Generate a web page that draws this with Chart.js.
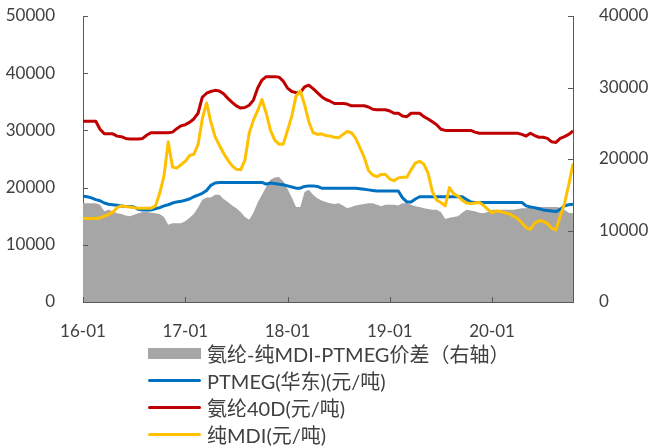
<!DOCTYPE html>
<html>
<head>
<meta charset="utf-8">
<script src="https://cdn.jsdelivr.net/npm/chart.js@4"></script>
<style>
  body { margin: 0; background: #fff; }
  #wrap { position: relative; width: 649px; height: 448px; }
  #legend { position: absolute; left: 148px; top: 340px; font-family: Lato, "Noto Sans CJK SC", sans-serif; font-size: 20px; color: #404040; }
  #legend .row { height: 27px; display: flex; align-items: center; white-space: nowrap; }
  #legend .sw { width: 53px; margin-right: 6px; }
</style>
</head>
<body>
<div id="wrap">
  <canvas id="chart"></canvas>
  <div id="legend"></div>
</div>
<script>
// half-month steps from 2016-01 (month 0) to mid 2020-10
const months = Array.from({ length: 116 }, (_, i) => i / 2);

const tickMonths = [0, 12, 24, 36, 48];
const tickLabels = ['16-01', '17-01', '18-01', '19-01', '20-01'];

// 氨纶40D (元/吨)
const spandex = [
  31600, 31600, 31600, 31600, 30200, 29400, 29400, 29400, 29000, 28900, 28600, 28500, 28500, 28500, 28600, 29200, 29600, 29600, 29600, 29600, 29600, 29700, 30300, 30800,
  31000, 31400, 32000, 33000, 35800, 36500, 36800, 37000, 36900, 36400, 35600, 34900, 34300, 33900, 34000, 34400, 35300, 37400, 38800, 39400, 39400, 39400, 39300, 38600,
  37400, 36800, 36600, 36600, 37600, 37900, 37300, 36600, 35900, 35400, 35100, 34700, 34700, 34700, 34600, 34300, 34300, 34300, 34300, 34100, 33700, 33600, 33600, 33600,
  33400, 33000, 33000, 32500, 32400, 33000, 33000, 33000, 32400, 32000, 31500, 31000, 30200, 30000, 30000, 30000, 30000, 30000, 30000, 30000, 29700, 29500, 29500, 29500,
  29500, 29500, 29500, 29500, 29500, 29500, 29500, 29300, 29000, 29500, 29100, 28800, 28800, 28600, 28000, 27900, 28600, 28900, 29300, 29900
];

// 纯MDI (元/吨)
const mdi = [
  14600, 14600, 14600, 14600, 14700, 15000, 15300, 15700, 16500, 16800, 16700, 16600, 16500, 16400, 16400, 16400, 16400, 16800, 19000, 22000, 28000, 23600, 23400, 24000,
  24600, 25600, 25800, 27500, 32000, 34800, 31500, 28900, 27400, 26000, 24800, 23800, 23200, 23100, 24800, 29500, 31800, 33500, 35400, 33000, 30000, 28300, 27600, 27600,
  30000, 32500, 36000, 36900, 34500, 31500, 29600, 29300, 29400, 29100, 29000, 28800, 28700, 29300, 29800, 29600, 28600, 27000, 25300, 23000, 22200, 21900, 22300, 22300,
  21500, 21200, 21700, 21800, 21800, 23100, 24300, 24600, 24100, 22500, 19300, 17800, 17400, 16800, 20000, 18900, 18500, 17800, 17300, 17200, 17300, 17400, 16900, 16200,
  15600, 15900, 15800, 15600, 15400, 15000, 14600, 13800, 13000, 12700, 13800, 14200, 14100, 13700, 12900, 12600, 15000, 17200, 20500, 24200
];

// PTMEG(华东) (元/吨)
const ptmeg = [
  18500, 18400, 18200, 17900, 17700, 17300, 17100, 17000, 16900, 16800, 16700, 16700, 16600, 16200, 16100, 16100, 16100, 16300, 16500, 16800, 17000, 17300, 17500, 17600,
  17800, 18000, 18400, 18700, 19000, 19500, 20400, 20800, 20900, 20900, 20900, 20900, 20900, 20900, 20900, 20900, 20900, 20900, 20900, 20600, 20800, 20700, 20600, 20500,
  20300, 20100, 19900, 19900, 20200, 20300, 20300, 20200, 19900, 19900, 19900, 19900, 19900, 19900, 19900, 19900, 19900, 19800, 19700, 19600, 19500, 19400, 19400, 19400,
  19400, 19400, 19400, 18200, 17500, 17500, 18000, 18400, 18400, 18400, 18400, 18400, 18400, 18400, 18400, 18400, 18400, 18400, 17900, 17500, 17400, 17400, 17400, 17400,
  17400, 17400, 17400, 17400, 17400, 17400, 17400, 17400, 16800, 16600, 16500, 16300, 16100, 16000, 15900, 15800, 16200, 16800, 17000, 17100
];

// 氨纶-纯MDI-PTMEG价差 (右轴)
const spread = [
  13800, 13800, 13800, 13800, 13600, 12700, 12900, 12700, 12400, 12300, 12100, 12000, 12200, 12400, 12600, 12600, 12500, 12400, 12300, 11900, 10800, 11000, 11000, 11000,
  11300, 11800, 12300, 13200, 14300, 14600, 14600, 15000, 15000, 14400, 14000, 13500, 13100, 12600, 11900, 11500, 12500, 13900, 15000, 16100, 17100, 17400, 17500, 16900,
  15800, 14600, 13300, 13300, 15400, 15700, 15000, 14500, 14200, 14000, 13800, 13700, 13800, 13500, 13100, 13300, 13500, 13600, 13700, 13800, 13800, 13600, 13400, 13600,
  13600, 13600, 13500, 13800, 13800, 13600, 13400, 13300, 13100, 13000, 12900, 12900, 12600, 11600, 11800, 11900, 12000, 12500, 12900, 12800, 12700, 12500, 12400, 12600,
  12900, 12900, 12900, 12900, 12900, 12900, 13000, 13100, 13100, 13200, 13300, 13300, 13300, 13300, 13300, 13300, 13200, 12900, 12500, 12400
];

const axisColor = '#595959';
const textColor = '#404040';
const tickFont = { family: 'Lato, "Noto Sans CJK SC", sans-serif', size: 17 };

function pts(values) {
    return months.map((m, i) => ({ x: m, y: values[i] }));
}

// tick marks pointing into the plot, like the original
const innerTicks = {
    id: 'innerTicks',
    afterDraw(chart) {
        const { ctx, chartArea, scales } = chart;
        const len = 5;
        ctx.save();
        ctx.strokeStyle = axisColor;
        ctx.lineWidth = 1;
        ctx.beginPath();
        scales.x.ticks.forEach(t => {
            const px = Math.round(scales.x.getPixelForValue(t.value)) + 0.5;
            ctx.moveTo(px, chartArea.bottom);
            ctx.lineTo(px, chartArea.bottom - len);
        });
        scales.y.ticks.forEach(t => {
            const py = Math.round(scales.y.getPixelForValue(t.value)) + 0.5;
            ctx.moveTo(chartArea.left, py);
            ctx.lineTo(chartArea.left + len, py);
        });
        scales.y2.ticks.forEach(t => {
            const py = Math.round(scales.y2.getPixelForValue(t.value)) + 0.5;
            ctx.moveTo(chartArea.right, py);
            ctx.lineTo(chartArea.right - len, py);
        });
        ctx.stroke();
        ctx.restore();
    }
};

const lineDefaults = { pointRadius: 0, borderWidth: 3, tension: 0, fill: false, borderJoinStyle: 'round', yAxisID: 'y' };

// fixed axis boxes so the plot sits where the original's does
function fitY(width) {
    return s => { s.width = width; s.paddingTop = 0; s.paddingBottom = 0; };
}

const ctx = document.getElementById('chart').getContext('2d');
const chart = new Chart(ctx, {
    type: 'line',
    data: {
        datasets: [
            { ...lineDefaults, label: '纯MDI(元/吨)', data: pts(mdi), borderColor: '#FFC000', order: 1 },
            { ...lineDefaults, label: '氨纶40D(元/吨)', data: pts(spandex), borderColor: '#C00000', order: 2 },
            { ...lineDefaults, label: 'PTMEG(华东)(元/吨)', data: pts(ptmeg), borderColor: '#0070C0', order: 3 },
            {
                label: '氨纶-纯MDI-PTMEG价差（右轴）', data: pts(spread), yAxisID: 'y2',
                borderWidth: 0, pointRadius: 0, tension: 0,
                backgroundColor: '#A6A6A6', borderColor: '#A6A6A6', fill: 'origin', order: 4
            }
        ]
    },
    options: {
        responsive: true,
        maintainAspectRatio: false,
        animation: false,
        layout: { padding: { top: 16, left: 0, right: 0, bottom: 0 } },
        plugins: { legend: { display: false }, tooltip: { enabled: false } },
        scales: {
            x: {
                type: 'linear', min: 0, max: 57.5,
                grid: { display: false },
                border: { display: true, color: axisColor, width: 1 },
                ticks: {
                    font: tickFont, color: textColor, padding: 11, maxRotation: 0, autoSkip: false,
                    callback: v => tickLabels[tickMonths.indexOf(v)] ?? ''
                },
                afterBuildTicks: s => { s.ticks = tickMonths.map(v => ({ value: v })); },
                afterFit: s => { s.height = 146; s.paddingLeft = 0; s.paddingRight = 0; }
            },
            y: {
                position: 'left', min: 0, max: 50000,
                grid: { display: false },
                border: { display: true, color: axisColor, width: 1 },
                ticks: { stepSize: 10000, font: tickFont, color: textColor, padding: 20, callback: v => String(v) },
                afterFit: fitY(83)
            },
            y2: {
                position: 'right', min: 0, max: 40000,
                grid: { display: false },
                border: { display: true, color: axisColor, width: 1 },
                ticks: { stepSize: 10000, font: tickFont, color: textColor, padding: 18, callback: v => String(v) },
                afterFit: fitY(76)
            }
        }
    },
    plugins: [innerTicks]
});

// legend in the same order as the original (spread, PTMEG, 40D, MDI)
const legendOrder = [3, 2, 1, 0];
const legendEl = document.getElementById('legend');
legendOrder.forEach(i => {
    const ds = chart.data.datasets[i];
    const row = document.createElement('div');
    row.className = 'row';
    const sw = document.createElement('span');
    sw.className = 'sw';
    if (ds.fill) {
        sw.style.height = '11px';
        sw.style.background = ds.backgroundColor;
    } else {
        sw.style.height = '3px';
        sw.style.borderRadius = '2px';
        sw.style.background = ds.borderColor;
    }
    const txt = document.createElement('span');
    txt.textContent = ds.label;
    row.appendChild(sw);
    row.appendChild(txt);
    legendEl.appendChild(row);
});
</script>
</body>
</html>
